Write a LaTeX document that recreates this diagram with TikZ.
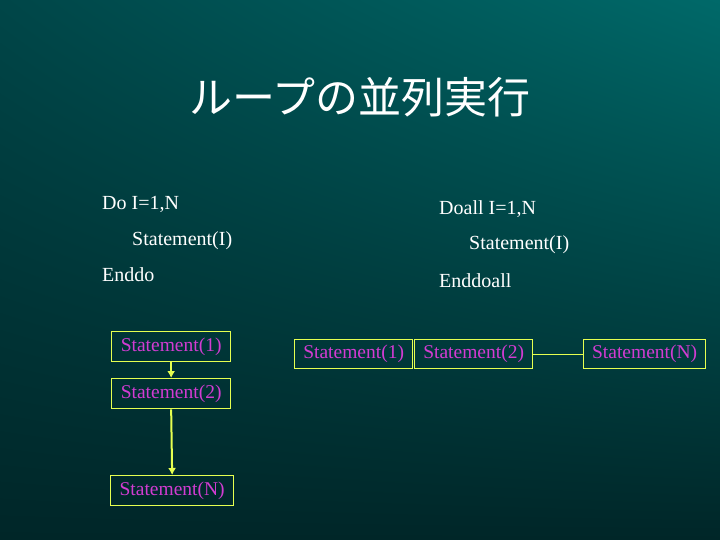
\documentclass[tikz,border=0pt]{standalone}
\usepackage{fontspec}
\usetikzlibrary{arrows.meta,shadings}
\setmainfont{Liberation Serif}
\newfontfamily\cjk{Noto Sans CJK JP}
\definecolor{bgtop}{RGB}{0,105,105}
\definecolor{bgbot}{RGB}{0,38,40}
\definecolor{bgmid}{RGB}{0,70,72}
\definecolor{mag}{RGB}{210,60,210}
\definecolor{ylw}{RGB}{230,255,80}
\begin{document}
\begin{tikzpicture}[x=1pt,y=-1pt,
  box/.style={draw=ylw,line width=1.3pt,text=mag,font=\fontsize{19.5}{22}\selectfont,inner sep=0pt,minimum height=30pt,anchor=north west},
  code/.style={text=white,font=\fontsize{20}{24}\selectfont,anchor=west,inner sep=0pt},
  arr/.style={draw=ylw,line width=2pt,-{Latex[length=7pt,width=8pt]}}]
\shade[upper left=bgmid,upper right=bgtop,lower left=bgbot,lower right=bgbot] (0,0) rectangle (720,540);
\useasboundingbox (0,0) rectangle (720,540);
\node[text=white,font=\cjk\fontsize{43}{48}\selectfont] (title) at (360,97) {ループの並列実行};
\node[code] (l1) at (102,204) {Do I=1,N};
\node[code] (l2) at (132,241) {Statement(I)};
\node[code] (l3) at (102,275) {Enddo};
\node[code] (r1) at (439,209) {Doall I=1,N};
\node[code] (r2) at (469,245) {Statement(I)};
\node[code] (r3) at (439,281) {Enddoall};
\node[box,minimum width=119pt] (a1) at (111,331) {Statement(1)};
\node[box,minimum width=119pt] (a2) at (111,378) {Statement(2)};
\node[box,minimum width=123pt] (an) at (110,475) {Statement(N)};
\draw[arr] (a1.south) -- (a2.north);
\draw[arr] (a2.south) -- (an.north);
\node[box,minimum width=118pt,minimum height=29pt] (b1) at (294,339) {Statement(1)};
\node[box,minimum width=118pt,minimum height=29pt] (b2) at (414,339) {Statement(2)};
\node[box,minimum width=122pt,minimum height=29pt] (bn) at (583,339) {Statement(N)};
\draw[ylw,line width=1pt] (b2.east) -- (bn.west);
\end{tikzpicture}
\end{document}
